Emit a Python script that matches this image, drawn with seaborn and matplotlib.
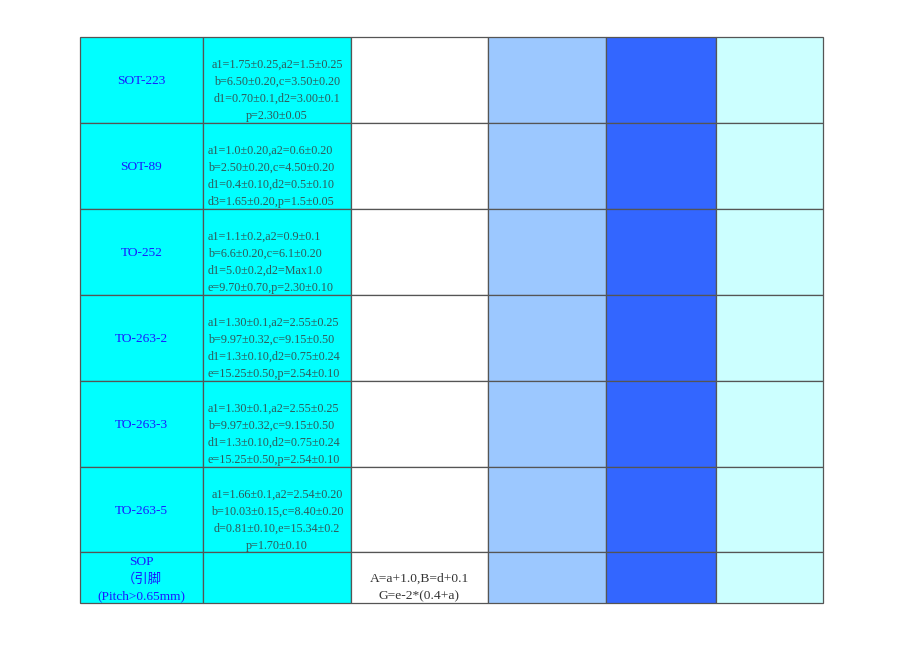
import numpy as np
import seaborn as sns
import matplotlib.pyplot as plt

# Table content
packages = ["SOT-223", "SOT-89", "TO-252", "TO-263-2", "TO-263-3", "TO-263-5",
            "SOP\n（引脚\n(Pitch>0.65mm)"]
dims = [
    ["a1=1.75±0.25,a2=1.5±0.25", "b=6.50±0.20,c=3.50±0.20",
     "d1=0.70±0.1,d2=3.00±0.1", "p=2.30±0.05"],
    ["a1=1.0±0.20,a2=0.6±0.20", "b=2.50±0.20,c=4.50±0.20",
     "d1=0.4±0.10,d2=0.5±0.10", "d3=1.65±0.20,p=1.5±0.05"],
    ["a1=1.1±0.2,a2=0.9±0.1", "b=6.6±0.20,c=6.1±0.20",
     "d1=5.0±0.2,d2=Max1.0", "e=9.70±0.70,p=2.30±0.10"],
    ["a1=1.30±0.1,a2=2.55±0.25", "b=9.97±0.32,c=9.15±0.50",
     "d1=1.3±0.10,d2=0.75±0.24", "e=15.25±0.50,p=2.54±0.10"],
    ["a1=1.30±0.1,a2=2.55±0.25", "b=9.97±0.32,c=9.15±0.50",
     "d1=1.3±0.10,d2=0.75±0.24", "e=15.25±0.50,p=2.54±0.10"],
    ["a1=1.66±0.1,a2=2.54±0.20", "b=10.03±0.15,c=8.40±0.20",
     "d=0.81±0.10,e=15.34±0.2", "p=1.70±0.10"],
    [],
]
dims_align = ["center", "left", "left", "left", "left", "center", "center"]
formula = ["", "A=a+1.0,B=d+0.1", "G=e-2*(0.4+a)"]

col_colors = ["#00FFFF", "#00FFFF", "#FFFFFF", "#9CC8FF", "#3366FF", "#CCFFFF"]

# Layout (pixels)
x0, y0 = 80, 37
col_w = np.array([123, 148, 137, 118, 110, 107])
row_h = np.array([86, 86, 86, 86, 86, 85, 51])
col_left = x0 + np.concatenate([[0], np.cumsum(col_w)[:-1]])
row_top = y0 + np.concatenate([[0], np.cumsum(row_h)[:-1]])
line_step = 17
dy = 1.5          # small nudge for va='center'
dims_shift = 9    # dimension block sits a bit low in its cell

sns.set_theme(style="white")
plt.rcParams['font.family'] = ['Liberation Serif', 'Noto Sans CJK SC', 'DejaVu Sans']

fig = plt.figure(figsize=(9.2, 6.51), dpi=100)
ax = fig.add_axes([0, 0, 1, 1])
ax.set_xlim(0, 920)
ax.set_ylim(651, 0)
ax.axis('off')

# cells
for j in range(len(col_w)):
    ax.bar(np.full(len(row_h), col_left[j]), row_h, width=col_w[j], bottom=row_top,
           align='edge', color=col_colors[j], edgecolor='#555555', linewidth=0.9)

# package names
for i, name in enumerate(packages):
    lines = name.split("\n")
    cx = col_left[0] + col_w[0] / 2
    cy = row_top[i] + row_h[i] / 2 + dy
    for k, ln in enumerate(lines):
        yy = cy + (k - (len(lines) - 1) / 2) * line_step
        ax.text(cx, yy, ln, ha='center', va='center', fontsize=9.6, color='#1a1aff')

# dimensions
for i, lines in enumerate(dims):
    cy = row_top[i] + row_h[i] / 2 + dy + dims_shift
    for k, ln in enumerate(lines):
        yy = cy + (k - (len(lines) - 1) / 2) * line_step
        if dims_align[i] == "left":
            ax.text(col_left[1] + 5, yy, ln, ha='left', va='center', fontsize=8.7, color='#2f5a5a')
        else:
            ax.text(col_left[1] + col_w[1] / 2, yy, ln, ha='center', va='center',
                    fontsize=8.7, color='#2f5a5a')

# formula in last row
cy = row_top[-1] + row_h[-1] / 2 + dy
for k, ln in enumerate(formula):
    yy = cy + (k - (len(formula) - 1) / 2) * line_step
    ax.text(col_left[2] + col_w[2] / 2, yy, ln, ha='center', va='center',
            fontsize=9.7, color='#333333')

fig.savefig("out.png", dpi=100)
